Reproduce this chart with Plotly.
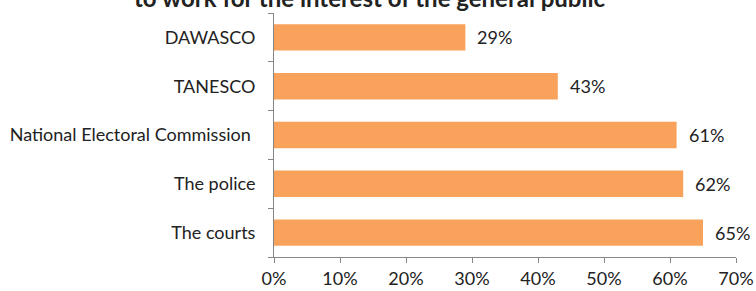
import plotly.graph_objects as go

categories = ["The courts", "The police", "National Electoral Commission ", "TANESCO", "DAWASCO"]
values = [65, 62, 61, 43, 29]
value_labels = ["65%", "62%", "61%", "43%", "29%"]
x_ticks = [0, 10, 20, 30, 40, 50, 60, 70]
x_tick_labels = ["0%", "10%", "20%", "30%", "40%", "50%", "60%", "70%"]
title_text = "to work for the interest of the general public"

FONT = "Lato"
FS = 18
fig = go.Figure()
fig.add_trace(go.Bar(
    y=categories, x=values, orientation="h",
    marker=dict(color="#F8A25C", line=dict(width=0)),
    hoverinfo="skip",
))

for c, v, t in zip(categories, values, value_labels):
    fig.add_annotation(x=v, y=c, xref="x", yref="y", text=t, showarrow=False,
                       xanchor="left", xshift=10,
                       font=dict(family=FONT, size=FS, color="#222222"))

fig.add_annotation(x=(370 - 274) / 462, y=1, xref="paper", yref="paper",
                   text="<b>" + title_text + "</b>", showarrow=False,
                   xanchor="center", yanchor="bottom", yshift=-1,
                   font=dict(family=FONT, size=24, color="#222222"))

fig.update_layout(
    width=756, height=291,
    margin=dict(l=274, r=20, t=13, b=34),
    paper_bgcolor="white", plot_bgcolor="white",
    bargap=0.46, showlegend=False,
    font=dict(family=FONT, size=FS, color="#222222"),
)
fig.update_xaxes(range=[0, 70], tickvals=x_ticks, ticktext=x_tick_labels,
                 showgrid=False, zeroline=False, showline=True, linecolor="#868686",
                 linewidth=1, ticks="outside", ticklen=5, tickcolor="#868686",
                 automargin=False,
                 tickfont=dict(family=FONT, size=FS, color="#222222"))
fig.update_yaxes(categoryorder="array", categoryarray=categories,
                 showgrid=False, zeroline=False, showline=True, linecolor="#868686",
                 linewidth=1, ticks="outside", ticklen=5, tickcolor="#868686",
                 tickson="boundaries", ticklabelstandoff=14, automargin=False,
                 tickfont=dict(family=FONT, size=FS, color="#222222"))

fig.write_html("out.html", config={"displayModeBar": False},
               post_script="document.body.style.margin='0';document.body.style.overflow='hidden';")
